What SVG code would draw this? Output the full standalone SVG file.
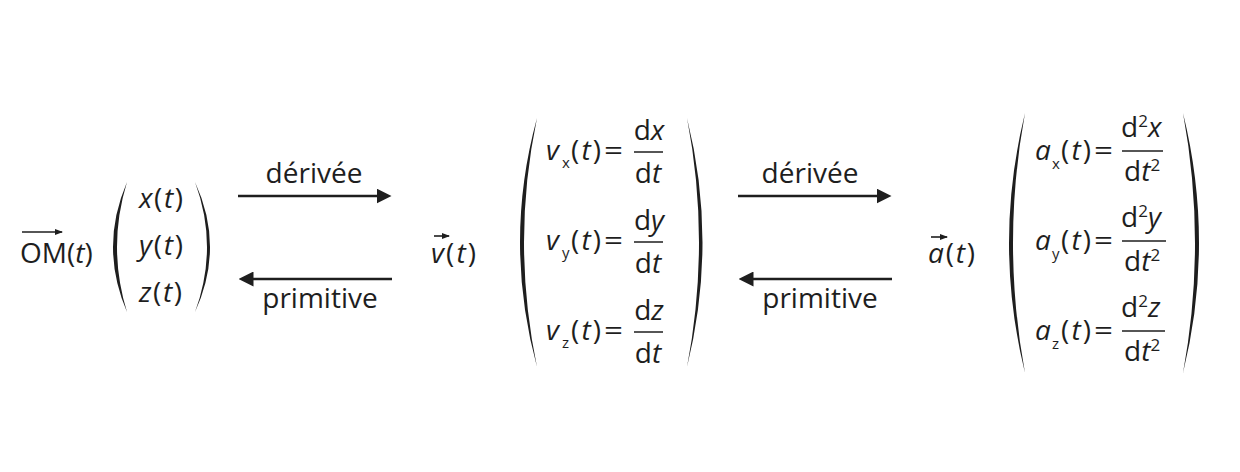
<svg xmlns="http://www.w3.org/2000/svg" width="1240" height="472" viewBox="0 0 1240 472">
<defs>
<style>
text{font-family:"Open Sans","DejaVu Sans",sans-serif;font-size:28px;fill:#1e1e1e}
.i{font-style:italic}
.s{font-size:15px}
.sup{font-size:17px}
.m{text-anchor:middle}
.bar{stroke:#1e1e1e;stroke-width:1.5}
.par{fill:#1e1e1e;stroke:none}
.conn{stroke:#1e1e1e;stroke-width:2.5;fill:none}
.vec{stroke:#1e1e1e;stroke-width:1.6;fill:none}
</style>
<marker id="ah" markerWidth="6" markerHeight="6" refX="1" refY="3" orient="auto" markerUnits="strokeWidth">
<path d="M0,0 L6,3 L0,6 Z" fill="#1e1e1e"/>
</marker>
<marker id="vh" markerWidth="8" markerHeight="8" refX="7" refY="4" orient="auto" markerUnits="userSpaceOnUse">
<path d="M0,1 L8,4 L0,7 Z" fill="#1e1e1e"/>
</marker>
</defs>
<rect width="1240" height="472" fill="#ffffff"/>

<g id="position">
<line class="vec" x1="22" y1="232" x2="62" y2="232" marker-end="url(#vh)"/>
<text x="20" y="263">OM(<tspan class="i">t</tspan>)</text>
<path class="par" d="M127,182 Q99,247 127,312 Q107,247 127,182 Z"/>
<path class="par" d="M195,182 Q225,247 195,312 Q219,247 195,182 Z"/>
<text x="139" y="208" textLength="44"><tspan class="i">x</tspan>(<tspan class="i">t</tspan>)</text>
<text x="139" y="255" textLength="44"><tspan class="i">y</tspan>(<tspan class="i">t</tspan>)</text>
<text x="139" y="302" textLength="43"><tspan class="i">z</tspan>(<tspan class="i">t</tspan>)</text>
</g>

<g id="vitesse">
<line class="vec" x1="434" y1="236" x2="449" y2="236" marker-end="url(#vh)"/>
<text x="431" y="263" textLength="45"><tspan class="i">v</tspan>(<tspan class="i">t</tspan>)</text>
<path class="par" d="M537,118 Q503,242 537,367 Q511,242 537,118 Z"/>
<path class="par" d="M687,118 Q718,242 687,367 Q711,242 687,118 Z"/>

<text class="i" x="546" y="160">v</text><text class="s" x="562" y="168">x</text><text x="571" y="160" textLength="30">(<tspan class="i">t</tspan>)</text><text x="604" y="160" textLength="19" lengthAdjust="spacingAndGlyphs">=</text>
<line class="bar" x1="634" y1="152" x2="663" y2="152"/>
<text class="m" x="649" y="140">d<tspan class="i">x</tspan></text>
<text class="m" x="648" y="183">d<tspan class="i">t</tspan></text>

<text class="i" x="546" y="250">v</text><text class="s" x="562" y="258">y</text><text x="571" y="250" textLength="30">(<tspan class="i">t</tspan>)</text><text x="604" y="250" textLength="19" lengthAdjust="spacingAndGlyphs">=</text>
<line class="bar" x1="634" y1="242" x2="663" y2="242"/>
<text class="m" x="649" y="230">d<tspan class="i">y</tspan></text>
<text class="m" x="648" y="273">d<tspan class="i">t</tspan></text>

<text class="i" x="546" y="340">v</text><text class="s" x="562" y="348">z</text><text x="571" y="340" textLength="30">(<tspan class="i">t</tspan>)</text><text x="604" y="340" textLength="19" lengthAdjust="spacingAndGlyphs">=</text>
<line class="bar" x1="634" y1="332" x2="663" y2="332"/>
<text class="m" x="649" y="320">d<tspan class="i">z</tspan></text>
<text class="m" x="648" y="363">d<tspan class="i">t</tspan></text>
</g>

<g id="acceleration">
<line class="vec" x1="931" y1="237" x2="947" y2="237" marker-end="url(#vh)"/>
<text x="928" y="263" textLength="47"><tspan class="i">a</tspan>(<tspan class="i">t</tspan>)</text>
<path class="par" d="M1025,113 Q993,243 1025,373 Q1001,243 1025,113 Z"/>
<path class="par" d="M1183,113 Q1215,243 1183,373 Q1207,243 1183,113 Z"/>

<text class="i" x="1035" y="160">a</text><text class="s" x="1052" y="169">x</text><text x="1061" y="160" textLength="30">(<tspan class="i">t</tspan>)</text><text x="1094" y="160" textLength="19" lengthAdjust="spacingAndGlyphs">=</text>
<line class="bar" x1="1122" y1="151" x2="1163" y2="151"/>
<text x="1121" y="137">d<tspan class="sup" dy="-10">2</tspan><tspan class="i" dy="10">x</tspan></text>
<text x="1124" y="181">d<tspan class="i">t</tspan><tspan class="sup" dy="-10">2</tspan></text>

<text class="i" x="1035" y="250">a</text><text class="s" x="1052" y="259">y</text><text x="1061" y="250" textLength="30">(<tspan class="i">t</tspan>)</text><text x="1094" y="250" textLength="19" lengthAdjust="spacingAndGlyphs">=</text>
<line class="bar" x1="1122" y1="241" x2="1166" y2="241"/>
<text x="1121" y="227">d<tspan class="sup" dy="-10">2</tspan><tspan class="i" dy="10">y</tspan></text>
<text x="1124" y="271">d<tspan class="i">t</tspan><tspan class="sup" dy="-10">2</tspan></text>

<text class="i" x="1035" y="340">a</text><text class="s" x="1052" y="349">z</text><text x="1061" y="340" textLength="30">(<tspan class="i">t</tspan>)</text><text x="1094" y="340" textLength="19" lengthAdjust="spacingAndGlyphs">=</text>
<line class="bar" x1="1122" y1="331" x2="1165" y2="331"/>
<text x="1121" y="317">d<tspan class="sup" dy="-10">2</tspan><tspan class="i" dy="10">z</tspan></text>
<text x="1124" y="361">d<tspan class="i">t</tspan><tspan class="sup" dy="-10">2</tspan></text>
</g>

<g id="connectors">
<line class="conn" x1="238" y1="196" x2="379" y2="196" marker-end="url(#ah)"/>
<line class="conn" x1="392" y1="279" x2="251" y2="279" marker-end="url(#ah)"/>
<line class="conn" x1="738" y1="196" x2="879" y2="196" marker-end="url(#ah)"/>
<line class="conn" x1="892" y1="279" x2="751" y2="279" marker-end="url(#ah)"/>
<text class="m" x="314" y="183">dérivée</text>
<text class="m" x="320" y="308">primitive</text>
<text class="m" x="810" y="183">dérivée</text>
<text class="m" x="820" y="308">primitive</text>
</g>
</svg>
